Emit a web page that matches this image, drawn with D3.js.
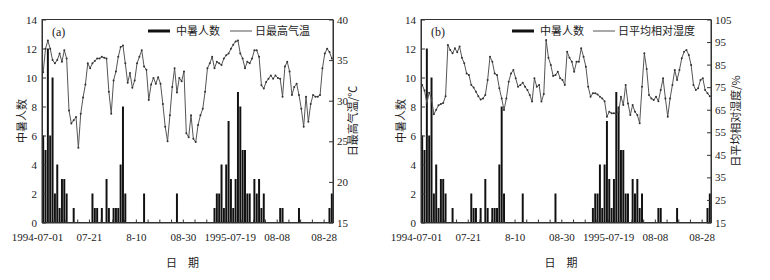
<!DOCTYPE html>
<html>
<head>
<meta charset="utf-8">
<script src="https://cdn.jsdelivr.net/npm/d3@7"></script>
<style>
  body { margin: 0; background: #fff; }
  svg text { font-family: "Liberation Serif", "DejaVu Serif", serif; fill: #222; }
  svg text.cjk { font-family: "Noto Sans CJK SC", sans-serif; }
</style>
</head>
<body>
<div id="chart"></div>
<script>
// 日期：1994-07-01..08-31 与 1995-07-01..08-31
const dates1994 = d3.timeDay.range(new Date(1994, 6, 1), new Date(1994, 8, 1));
const dates1995 = d3.timeDay.range(new Date(1995, 6, 1), new Date(1995, 8, 1));
const categories = dates1994.concat(dates1995).map(d3.timeFormat('%Y-%m-%d'));

const tickDates = ['1994-07-01', '1994-07-21', '1994-08-10', '1994-08-30', '1995-07-19', '1995-08-08', '1995-08-28'];
const tickLabels = ['1994-07-01', '07-21', '8-10', '08-30', '1995-07-19', '08-08', '08-28'];

// 中暑人数
const heatCases1994 = [
  6, 5, 12, 6, 10, 2, 4, 1, 3, 3, 2, 0,
  0, 1, 0, 0, 0, 0, 0, 0, 0, 2, 1, 1,
  0, 1, 0, 3, 1, 0, 1, 1, 1, 4, 8, 2,
  0, 0, 0, 0, 0, 0, 0, 2, 0, 0, 0, 0,
  0, 0, 0, 0, 0, 0, 0, 0, 0, 2, 0, 0,
  0, 0
];
const heatCases1995 = [
  0, 0, 0, 0, 0, 0, 0, 0, 0, 0, 0, 1,
  2, 2, 4, 1, 4, 7, 3, 1, 3, 9, 8, 5,
  5, 2, 2, 0, 3, 2, 3, 1, 2, 0, 0, 0,
  0, 0, 0, 1, 1, 0, 0, 0, 0, 0, 0, 1,
  0, 0, 0, 0, 0, 0, 0, 0, 0, 0, 0, 0,
  1, 2
];

// 日最高气温 (℃)
const maxTemp1994 = [
  33.5, 36.4, 37.4, 36.4, 35.0, 34.6, 35.0, 35.8, 34.8, 36.2,
  35.2, 28.8, 27.2, 27.6, 28.0, 24.2, 28.4, 30.4, 32.0, 34.6,
  34.0, 34.6, 34.9, 35.2, 35.2, 35.4, 35.3, 35.2, 31.1, 28.4,
  32.5, 33.6, 35.4, 36.6, 36.8, 34.6, 32.2, 33.4, 31.6, 32.5,
  34.6, 35.4, 36.2, 34.2, 33.8, 30.1, 32.0, 32.8, 32.1, 32.9,
  32.1, 29.6, 26.8, 25.0, 28.2, 31.7, 34.0, 31.0, 32.8, 32.4,
  33.6, 26.0
];
const maxTemp1995 = [
  25.5, 28.2, 25.3, 24.9, 27.0, 28.2, 29.0, 31.1, 34.0, 34.6,
  35.4, 34.0, 34.8, 34.6, 34.4, 35.2, 35.6, 35.8, 36.4, 36.9,
  37.3, 37.4, 35.8, 35.2, 34.0, 34.8, 34.6, 35.2, 36.2, 36.2,
  35.4, 31.9, 31.5, 32.3, 32.7, 33.1, 32.7, 33.1, 32.8, 32.7,
  30.5, 34.2, 34.8, 33.6, 30.7, 31.7, 32.1, 30.7, 29.0, 26.8,
  30.5, 27.4, 29.6, 30.7, 30.5, 30.5, 30.7, 34.0, 35.8, 36.4,
  36.0, 35.2
];

// 日平均相对湿度 (%)
const humidity1994 = [
  76.0, 73.5, 68.0, 72.5, 70.0, 63.0, 65.0, 67.0, 67.5, 68.0,
  71.0, 93.7, 91.5, 90.0, 92.2, 90.5, 93.0, 88.0, 85.6, 81.1,
  80.4, 76.0, 74.8, 73.0, 71.0, 69.5, 70.0, 71.5, 78.2, 88.5,
  86.3, 81.1, 80.4, 74.5, 70.0, 64.9, 70.0, 77.4, 81.1, 82.6,
  78.9, 75.2, 76.0, 77.0, 75.2, 73.7, 71.5, 68.6, 78.9, 75.2,
  76.0, 68.6, 72.0, 95.9, 88.0, 84.8, 80.0, 80.4, 81.8, 79.0,
  78.2, 76.0
];
const humidity1995 = [
  90.7, 88.0, 86.3, 81.8, 86.3, 86.3, 92.2, 88.5, 84.0, 75.2,
  70.8, 72.3, 72.3, 71.8, 70.8, 70.0, 68.8, 61.9, 64.1, 63.4,
  63.4, 63.2, 64.0, 70.8, 67.1, 76.0, 67.8, 62.7, 67.1, 64.1,
  62.7, 59.0, 75.2, 90.0, 83.0, 71.5, 70.0, 69.3, 70.8, 68.8,
  73.7, 78.9, 70.0, 61.9, 70.0, 76.0, 82.6, 78.2, 82.6, 87.8,
  90.7, 91.5, 89.3, 84.8, 76.0, 73.7, 74.5, 78.2, 78.9, 73.7,
  72.3, 71.0
];

const leftTicks = [0, 2, 4, 6, 8, 10, 12, 14];
const tempTicks = [15, 20, 25, 30, 35, 40];
const humidityTicks = [15, 25, 35, 45, 55, 65, 75, 85, 95, 105];

const heatCases = heatCases1994.concat(heatCases1995);
const maxTemp = maxTemp1994.concat(maxTemp1995);
const humidity = humidity1994.concat(humidity1995);

const width = 770, height = 280;
const plotTop = 19.5, plotBottom = 222.5;

const svg = d3.select('#chart').append('svg')
  .attr('width', width)
  .attr('height', height);

function drawPanel(p) {
  const g = svg.append('g');

  const xBand = d3.scaleBand().domain(categories).range([p.x0, p.x1]);
  const xPos = d3.scaleLinear().domain([0, categories.length]).range([p.x0, p.x1]);
  const yL = d3.scaleLinear().domain([0, 14]).range([plotBottom, plotTop]);
  const yR = d3.scaleLinear().domain(p.rightDomain).range([plotBottom, plotTop]);
  const bw = xBand.bandwidth();

  // 柱：中暑人数
  g.append('g').selectAll('rect')
    .data(categories.map((c, i) => ({ c, v: heatCases[i] })).filter(d => d.v > 0))
    .join('rect')
    .attr('x', d => xBand(d.c) + bw * 0.08)
    .attr('width', bw * 0.84)
    .attr('y', d => yL(d.v))
    .attr('height', d => yL(0) - yL(d.v))
    .attr('fill', '#111');

  // 折线
  const line = d3.line()
    .x((d, i) => xBand(categories[i]) + bw / 2)
    .y(d => yR(d));

  g.append('path')
    .datum(p.lineValues)
    .attr('fill', 'none')
    .attr('stroke', '#555')
    .attr('stroke-width', 1)
    .attr('d', line);

  g.append('g').selectAll('circle')
    .data(p.lineValues)
    .join('circle')
    .attr('cx', (d, i) => xBand(categories[i]) + bw / 2)
    .attr('cy', d => yR(d))
    .attr('r', 1)
    .attr('fill', '#333');

  // 边框
  g.append('rect')
    .attr('x', p.x0).attr('y', plotTop)
    .attr('width', p.x1 - p.x0).attr('height', plotBottom - plotTop)
    .attr('fill', 'none').attr('stroke', '#333').attr('stroke-width', 1);

  // x 轴
  const labelAt = {};
  tickDates.forEach((d, i) => { labelAt[categories.indexOf(d)] = tickLabels[i]; });
  const xAxis = g.append('g')
    .attr('transform', `translate(0,${plotBottom})`)
    .call(d3.axisBottom(xPos)
      .tickValues(d3.range(0, categories.length + 1, 5))
      .tickSizeInner(-3).tickSizeOuter(0).tickPadding(11)
      .tickFormat(i => labelAt[i] || ''));
  xAxis.selectAll('text').style('font-size', '11px')
    .attr('dx', d => d === 0 ? '-5' : '0');

  // 左轴
  const leftAxis = g.append('g')
    .attr('transform', `translate(${p.x0},0)`)
    .call(d3.axisLeft(yL).tickValues(leftTicks)
      .tickSizeInner(-4).tickSizeOuter(0).tickPadding(5));
  leftAxis.selectAll('text').style('font-size', '11px');

  // 右轴
  const rightAxis = g.append('g')
    .attr('transform', `translate(${p.x1},0)`)
    .call(d3.axisRight(yR).tickValues(p.rightTicks)
      .tickSizeInner(-4).tickSizeOuter(0).tickPadding(4));
  rightAxis.selectAll('text').style('font-size', '11px');

  [xAxis, leftAxis, rightAxis].forEach(a => {
    a.select('.domain').attr('stroke', '#333');
    a.selectAll('.tick line').attr('stroke', '#333');
  });

  // 轴标题
  const midY = (plotTop + plotBottom) / 2;
  g.append('text')
    .attr('class', 'cjk')
    .attr('transform', `translate(${p.x0 - 20},${midY}) rotate(-90)`)
    .attr('text-anchor', 'middle')
    .attr('dy', '0.35em')
    .style('font-size', '11px')
    .text('中暑人数');

  g.append('text')
    .attr('class', 'cjk')
    .attr('transform', `translate(${p.x1 + p.rightTitleOffset},${midY}) rotate(-90)`)
    .attr('text-anchor', 'middle')
    .attr('dy', '0.35em')
    .style('font-size', '11px')
    .text(p.rightTitle);

  g.append('text')
    .attr('class', 'cjk')
    .attr('x', (p.x0 + p.x1) / 2 - 5)
    .attr('y', 263)
    .attr('text-anchor', 'middle')
    .attr('dy', '0.35em')
    .style('font-size', '11px')
    .text('日　期');

  // 标记 (a)/(b)
  g.append('text')
    .attr('x', p.x0 + 10)
    .attr('y', 32)
    .attr('dy', '0.35em')
    .style('font-size', '12px')
    .text(p.tag);

  // 图例
  const lg = g.append('g').attr('transform', `translate(${p.legendX},31)`);
  lg.append('line')
    .attr('x1', 0).attr('x2', 22).attr('y1', 0).attr('y2', 0)
    .attr('stroke', '#111').attr('stroke-width', 3);
  lg.append('text')
    .attr('class', 'cjk')
    .attr('x', 28).attr('dy', '0.35em')
    .style('font-size', '11px')
    .text('中暑人数');
  lg.append('line')
    .attr('x1', p.legendGap).attr('x2', p.legendGap + 22).attr('y1', 0).attr('y2', 0)
    .attr('stroke', '#555').attr('stroke-width', 1);
  lg.append('text')
    .attr('class', 'cjk')
    .attr('x', p.legendGap + 25).attr('dy', '0.35em')
    .style('font-size', '11px')
    .text(p.lineName);
}

drawPanel({
  x0: 42, x1: 333,
  lineValues: maxTemp,
  rightDomain: [15, 40],
  rightTicks: tempTicks,
  rightTitle: '日最高气温/℃',
  rightTitleOffset: 20,
  lineName: '日最高气温',
  tag: '(a)',
  legendX: 148,
  legendGap: 82
});

drawPanel({
  x0: 421, x1: 711,
  lineValues: humidity,
  rightDomain: [15, 105],
  rightTicks: humidityTicks,
  rightTitle: '日平均相对湿度/%',
  rightTitleOffset: 25,
  lineName: '日平均相对湿度',
  tag: '(b)',
  legendX: 512,
  legendGap: 81
});
</script>
</body>
</html>
